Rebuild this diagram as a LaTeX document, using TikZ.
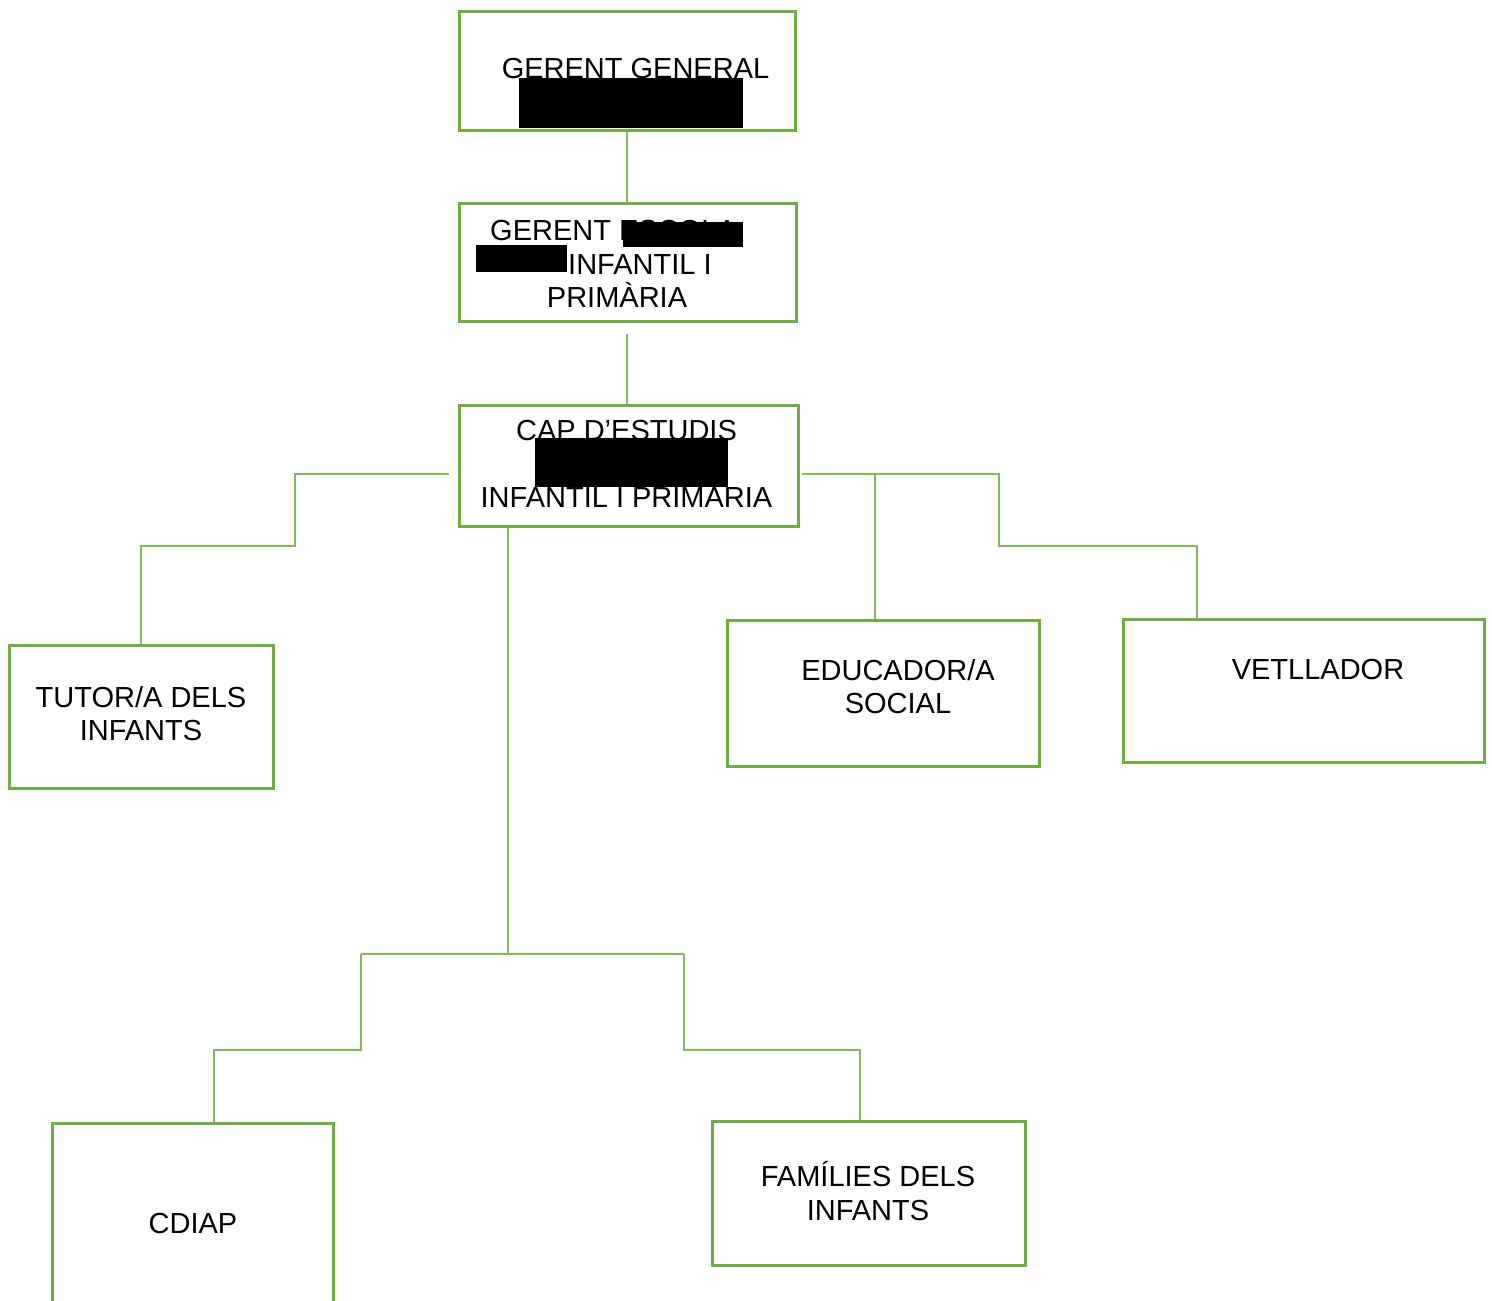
\documentclass[tikz,border=0pt]{standalone}
\usepackage{fontspec}
\setmainfont{Liberation Sans}
\definecolor{ogreen}{RGB}{112,173,71}
\definecolor{lgreen}{RGB}{130,186,92}
\begin{document}
\begin{tikzpicture}[x=1pt,y=-1pt,
  box/.style={draw=ogreen,line width=3pt,rectangle,inner sep=0pt,fill=none},
  txt/.style={anchor=base,inner sep=0pt,font=\fontsize{29}{34}\selectfont},
  txtw/.style={anchor=base west,inner sep=0pt,font=\fontsize{29}{34}\selectfont},
  conn/.style={draw=lgreen,line width=1.1pt},
  redact/.style={fill=black,draw=none}]
\useasboundingbox (0,0) rectangle (1492,1301);
\fill[white] (0,0) rectangle (1492,1301);
% boxes
\node[box,minimum width=336pt,minimum height=119pt] (box1) at (627,70.5) {};
\node[box,minimum width=337pt,minimum height=118pt] (box2) at (627.5,262) {};
\node[box,minimum width=339pt,minimum height=121pt] (box3) at (628.5,465.5) {};
\node[box,minimum width=264pt,minimum height=143pt] (tutor) at (141,716.5) {};
\node[box,minimum width=312pt,minimum height=146pt] (educ) at (883,693) {};
\node[box,minimum width=361pt,minimum height=143pt] (vet) at (1303.5,690.5) {};
\node[box,minimum width=281pt,minimum height=197pt] (cdiap) at (192.5,1221.5) {};
\node[box,minimum width=313pt,minimum height=144pt] (fam) at (868.5,1193) {};
% texts
\node[txt] (t1) at (635.5,78) {GERENT GENERAL};
\node[txtw] (t2a) at (490,240) {GERENT ESCOLA};
\node[txtw] (t2b) at (568,274) {INFANTIL I};
\node[txt] (t2c) at (617,307) {PRIMÀRIA};
\node[txt] (t3a) at (626.5,440) {CAP D’ESTUDIS};
\node[txt] (t3b) at (626.5,507) {INFANTIL I PRIMARIA};
\node[txt] (t4a) at (141,707) {TUTOR/A DELS};
\node[txt] (t4b) at (141,740) {INFANTS};
\node[txt] (t5a) at (898,680) {EDUCADOR/A};
\node[txt] (t5b) at (898,713) {SOCIAL};
\node[txt] (t6) at (1318,679) {VETLLADOR};
\node[txt] (t7) at (193,1233) {CDIAP};
\node[txt] (t8a) at (868,1186) {FAMÍLIES DELS};
\node[txt] (t8b) at (868,1220) {INFANTS};
% redactions
\fill[redact] (519,78) rectangle (743,128);
\fill[redact] (623,222) rectangle (743,247);
\fill[redact] (476,245) rectangle (567,272);
\fill[redact] (535,438) rectangle (728,487);
% coordinates
\coordinate (g2) at (627,334);
\coordinate (L0) at (449,474);
\coordinate (L1) at (295,546);
\coordinate (R0) at (802,474);
\coordinate (R1) at (999,546);
\coordinate (Rv) at (1197,600);
\coordinate (E0) at (875,474);
\coordinate (D0) at (508,600);
\coordinate (D1) at (508,954);
\coordinate (B1) at (361,954);
\coordinate (B2) at (684,954);
\coordinate (Bl) at (214,1050);
\coordinate (Br) at (860,1050);
% connectors
\draw[conn] (box1.south) -- (box1.south |- box2.north);
\draw[conn] (g2) -- (g2 |- box3.north);
\draw[conn] (L0) -| (L1) -| (tutor.north);
\draw[conn] (R0) -| (R1) -| (Rv |- vet.north);
\draw[conn] (E0) -- (E0 |- educ.north);
\draw[conn] (D0 |- box3.south) -- (D1);
\draw[conn] (B1) -- (B2);
\draw[conn] (B1) |- (Bl) -- (Bl |- cdiap.north);
\draw[conn] (B2) |- (Br) -- (Br |- fam.north);
\end{tikzpicture}
\end{document}
